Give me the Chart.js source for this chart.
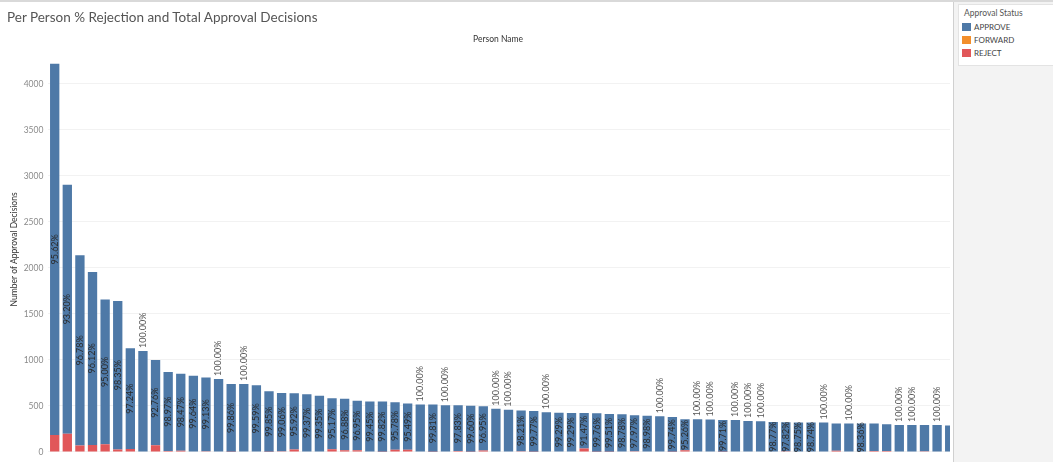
<!DOCTYPE html>
<html lang="en">
<head>
    <meta charset="UTF-8">
    <title>Per Person % Rejection and Total Approval Decisions</title>
    <script src="https://cdn.jsdelivr.net/npm/chart.js"></script>
    <style>
        body { margin: 0; width: 1053px; height: 462px; overflow: hidden; background: #fff; font-family: Lato, 'Open Sans', sans-serif; position: relative; }
        .topline { position: absolute; left: 0; top: 0; width: 1053px; height: 2px; background: #d9d9d9; }
        .title { position: absolute; left: 7px; top: 9px; font-size: 13.5px; color: #555; white-space: nowrap; }
        .col-header { position: absolute; left: 0; width: 996px; top: 34px; text-align: center; font-size: 8.5px; color: #333; }
        .chart-clip { position: absolute; left: 0; top: 0; width: 950px; height: 462px; overflow: hidden; }
        .chart-box { position: absolute; left: 0; top: 0; width: 956px; height: 462px; }
        .side { position: absolute; left: 953px; top: 2px; width: 100px; height: 460px; background: #f3f3f3; border-left: 1px solid #d0d0d0; }
        .legend { position: absolute; left: 4px; top: 2px; width: 96px; height: 60px; background: #fff; border: 1px solid #e3e3e3; border-right: none; }
        .legend .head { position: absolute; left: 5px; top: 3px; font-size: 8.5px; color: #555; }
        .legend .item { position: absolute; left: 3px; font-size: 8px; color: #444; height: 9px; line-height: 9px; }
        .legend .sw { display: inline-block; width: 9px; height: 8px; margin-right: 3px; vertical-align: top; }
    </style>
</head>
<body>
    <div class="topline"></div>
    <div class="chart-clip">
        <div class="chart-box"><canvas id="approval-chart"></canvas></div>
    </div>
    <div class="title">Per Person % Rejection and Total Approval Decisions</div>
    <div class="col-header">Person Name</div>
    <div class="side">
        <div class="legend">
            <div class="head">Approval Status</div>
            <div class="item" style="top:18px"><span class="sw" style="background:#4e79a7"></span>APPROVE</div>
            <div class="item" style="top:31px"><span class="sw" style="background:#f28e2b"></span>FORWARD</div>
            <div class="item" style="top:44px"><span class="sw" style="background:#e15759"></span>REJECT</div>
        </div>
    </div>

<script>
    // --- dados (nomes das pessoas não aparecem na imagem) ---
    const personNames = [
        'P01','P02','P03','P04','P05','P06','P07','P08','P09','P10','P11','P12',
        'P13','P14','P15','P16','P17','P18','P19','P20','P21','P22','P23','P24',
        'P25','P26','P27','P28','P29','P30','P31','P32','P33','P34','P35','P36',
        'P37','P38','P39','P40','P41','P42','P43','P44','P45','P46','P47','P48',
        'P49','P50','P51','P52','P53','P54','P55','P56','P57','P58','P59','P60',
        'P61','P62','P63','P64','P65','P66','P67','P68','P69','P70','P71','P72'
    ];

    const approveCounts = [
        4033, 2706, 2068, 1879, 1574, 1613, 1094, 1096, 927, 858, 836, 824,
        802, 792, 737, 738, 720, 657, 634, 612, 622, 605, 555, 559,
        538, 545, 546, 517, 502, 516, 514, 508, 496, 499, 482, 469,
        458, 443, 443, 430, 423, 419, 386, 420, 410, 403, 389, 390,
        387, 379, 337, 354, 351, 346, 346, 336, 333, 322, 315, 315,
        315, 319, 296, 308, 303, 298, 292, 293, 293, 287, 293, 282
    ];

    const forwardCounts = [
        0, 0, 0, 0, 0, 0, 0, 0, 0, 0, 0, 0,
        0, 0, 0, 0, 0, 0, 0, 0, 0, 0, 0, 0,
        0, 0, 0, 0, 0, 0, 0, 0, 0, 0, 0, 0,
        0, 0, 0, 0, 0, 0, 0, 0, 0, 0, 0, 0,
        0, 0, 0, 0, 0, 0, 0, 0, 0, 0, 0, 0,
        0, 0, 0, 0, 0, 0, 0, 0, 0, 0, 0, 0
    ];

    const rejectCounts = [
        185, 197, 69, 76, 83, 27, 31, 0, 72, 9, 13, 3,
        7, 0, 1, 0, 3, 1, 6, 26, 4, 4, 28, 18,
        17, 3, 1, 23, 24, 0, 1, 0, 11, 2, 15, 0,
        0, 8, 1, 0, 3, 3, 36, 1, 2, 5, 8, 4,
        0, 1, 17, 0, 0, 1, 0, 0, 0, 4, 7, 4,
        4, 0, 12, 0, 5, 10, 9, 0, 0, 6, 0, 5
    ];

    // % de aprovação escrito em cada barra (null = rótulo oculto)
    const pctLabels = [
        '95.62%', '93.20%', '96.78%', '96.12%', '95.00%', '98.35%', '97.24%', '100.00%', '92.76%', '98.97%', '98.47%', '99.64%',
        '99.13%', '100.00%', '99.86%', '100.00%', '99.59%', '99.85%', '99.06%', '95.92%', '99.37%', '99.35%', '95.17%', '96.88%',
        '96.95%', '99.45%', '99.82%', '95.78%', '95.49%', '100.00%', '99.81%', '100.00%', '97.83%', '99.60%', '96.95%', '100.00%',
        '100.00%', '98.21%', '99.77%', '100.00%', '99.29%', '99.29%', '91.47%', '99.76%', '99.51%', '98.78%', '97.97%', '98.98%',
        '100.00%', '99.74%', '95.26%', '100.00%', '100.00%', '99.71%', '100.00%', '100.00%', '100.00%', '98.77%', '97.82%', '98.75%',
        '98.74%', '100.00%', null, '100.00%', '98.36%', null, null, '100.00%', '100.00%', null, '100.00%', null
    ];

    const yTickValues = [0, 500, 1000, 1500, 2000, 2500, 3000, 3500, 4000];
    const yMax = 4400;

    // rótulos verticais: dentro do segmento APPROVE, ou acima da barra quando 100%
    const barLabels = {
        id: 'barLabels',
        afterDatasetsDraw(chart) {
            const ctx = chart.ctx;
            const appMeta = chart.getDatasetMeta(2);
            ctx.save();
            ctx.font = '9px Lato, "Open Sans", sans-serif';
            ctx.textBaseline = 'middle';
            pctLabels.forEach((txt, i) => {
                if (!txt) return;
                const bar = appMeta.data[i];
                ctx.save();
                if (rejectCounts[i] === 0) {
                    ctx.translate(bar.x, bar.y - 3);
                    ctx.rotate(-Math.PI / 2);
                    ctx.textAlign = 'left';
                    ctx.fillStyle = '#555';
                } else {
                    ctx.translate(bar.x, (bar.y + bar.base) / 2);
                    ctx.rotate(-Math.PI / 2);
                    ctx.textAlign = 'center';
                    ctx.fillStyle = '#2a2a2a';
                }
                ctx.fillText(txt, 0, 0);
                ctx.restore();
            });
            ctx.restore();
        }
    };

    new Chart(document.getElementById('approval-chart'), {
        type: 'bar',
        data: {
            labels: personNames,
            datasets: [
                { label: 'REJECT', data: rejectCounts, backgroundColor: '#e15759' },
                { label: 'FORWARD', data: forwardCounts, backgroundColor: '#f28e2b' },
                { label: 'APPROVE', data: approveCounts, backgroundColor: '#4e79a7' }
            ]
        },
        options: {
            responsive: true,
            maintainAspectRatio: false,
            animation: false,
            layout: { padding: { top: 47, bottom: 5, left: 0, right: 0 } },
            datasets: { bar: { categoryPercentage: 1, barPercentage: 0.74, borderWidth: 0 } },
            plugins: { legend: { display: false }, tooltip: { enabled: false } },
            scales: {
                x: { stacked: true, display: false },
                y: {
                    stacked: true,
                    min: 0,
                    max: yMax,
                    afterFit: s => { s.width = 48.4; },
                    afterBuildTicks: s => { s.ticks = yTickValues.map(v => ({ value: v })); },
                    grid: { drawTicks: false, color: '#f2f2f2' },
                    border: { display: false },
                    ticks: {
                        autoSkip: false,
                        padding: 5,
                        color: '#8a8a8a',
                        font: { size: 8.5, family: 'Lato, "Open Sans", sans-serif' },
                        callback: v => String(v)
                    },
                    title: { display: true, text: 'Number of Approval Decisions', color: '#333', padding: { top: 9, bottom: 0 }, font: { size: 8.5, family: 'Lato, "Open Sans", sans-serif' } }
                }
            }
        },
        plugins: [barLabels]
    });
</script>
</body>
</html>
